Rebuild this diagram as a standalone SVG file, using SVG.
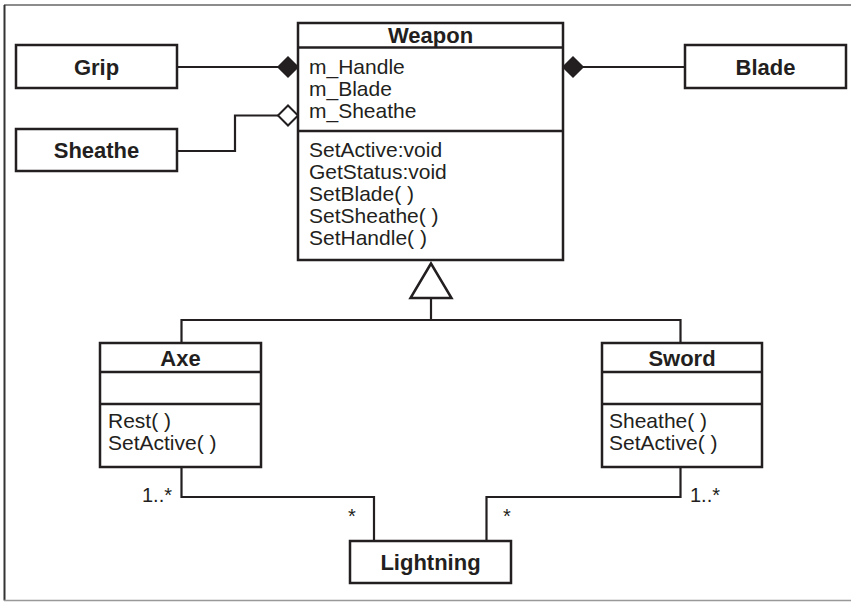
<svg xmlns="http://www.w3.org/2000/svg" width="851" height="602" viewBox="0 0 851 602">
<style>
.box{fill:#fff;stroke:#231f20;stroke-width:2.5}
.div{stroke:#231f20;stroke-width:2.5}
.con{fill:none;stroke:#231f20;stroke-width:2.2}
.t{font-family:"Liberation Sans",Arial,sans-serif;font-size:21px;fill:#231f20}
.b{font-weight:bold;text-anchor:middle;font-size:22px}
.m{font-family:"Liberation Sans",Arial,sans-serif;font-size:20px;fill:#231f20}
</style>
<rect x="0" y="0" width="851" height="602" fill="#fff"/>
<g id="frame">
<line x1="4" y1="5" x2="851" y2="5" stroke="#666" stroke-width="1.5"/>
<line x1="4.5" y1="5" x2="4.5" y2="600.5" stroke="#333" stroke-width="2"/>
<line x1="4" y1="600.5" x2="851" y2="600.5" stroke="#999" stroke-width="1.5"/>
</g>
<g id="connectors">
<line class="con" x1="177" y1="67" x2="280" y2="67"/>
<polygon points="278,67 288,57 298,67 288,77" fill="#231f20" stroke="#231f20" stroke-width="1.5"/>
<polyline class="con" points="177,151 235,151 235,115.5 279,115.5"/>
<polygon points="278,115.5 288,105.5 298,115.5 288,125.5" fill="#fff" stroke="#231f20" stroke-width="2"/>
<line class="con" x1="582" y1="67" x2="685" y2="67"/>
<polygon points="563,67 573,57 583,67 573,77" fill="#231f20" stroke="#231f20" stroke-width="1.5"/>
<polygon points="431,263.5 410.5,298 451.5,298" fill="#fff" stroke="#231f20" stroke-width="2.5"/>
<line class="con" x1="431" y1="298" x2="431" y2="320"/>
<polyline class="con" points="181.5,343 181.5,320 680.5,320 680.5,343"/>
<polyline class="con" points="181.5,467 181.5,497 374,497 374,541"/>
<polyline class="con" points="680.5,467 680.5,497 486.5,497 486.5,541"/>
<text class="m" x="142" y="502">1..*</text>
<text class="m" x="348" y="523">*</text>
<text class="m" x="690" y="502">1..*</text>
<text class="m" x="503" y="523">*</text>
</g>
<g id="grip">
<rect class="box" x="16" y="45" width="161" height="43"/>
<text class="t b" x="96.5" y="74.5">Grip</text>
</g>
<g id="sheathe">
<rect class="box" x="16" y="129" width="161" height="42"/>
<text class="t b" x="96.5" y="158">Sheathe</text>
</g>
<g id="blade">
<rect class="box" x="685" y="45" width="161" height="43"/>
<text class="t b" x="765.5" y="74.5">Blade</text>
</g>
<g id="weapon">
<rect class="box" x="298" y="23" width="265" height="237"/>
<line class="div" x1="298" y1="47.5" x2="563" y2="47.5"/>
<line class="div" x1="298" y1="131" x2="563" y2="131"/>
<text class="t b" x="430.5" y="43">Weapon</text>
<text class="t" x="309" y="74">m_Handle</text>
<text class="t" x="309" y="96">m_Blade</text>
<text class="t" x="309" y="118">m_Sheathe</text>
<text class="t" x="309" y="157">SetActive:void</text>
<text class="t" x="309" y="179">GetStatus:void</text>
<text class="t" x="309" y="201">SetBlade( )</text>
<text class="t" x="309" y="223">SetSheathe( )</text>
<text class="t" x="309" y="245">SetHandle( )</text>
</g>
<g id="axe">
<rect class="box" x="100" y="343" width="161" height="124"/>
<line class="div" x1="100" y1="372" x2="261" y2="372"/>
<line class="div" x1="100" y1="404" x2="261" y2="404"/>
<text class="t b" x="180.5" y="365.5">Axe</text>
<text class="t" x="108" y="428">Rest( )</text>
<text class="t" x="108" y="450">SetActive( )</text>
</g>
<g id="sword">
<rect class="box" x="602" y="343" width="160" height="124"/>
<line class="div" x1="602" y1="372" x2="762" y2="372"/>
<line class="div" x1="602" y1="404" x2="762" y2="404"/>
<text class="t b" x="682" y="365.5">Sword</text>
<text class="t" x="609" y="428">Sheathe( )</text>
<text class="t" x="609" y="450">SetActive( )</text>
</g>
<g id="lightning">
<rect class="box" x="350" y="541" width="161" height="42"/>
<text class="t b" x="430.5" y="570">Lightning</text>
</g>
</svg>
